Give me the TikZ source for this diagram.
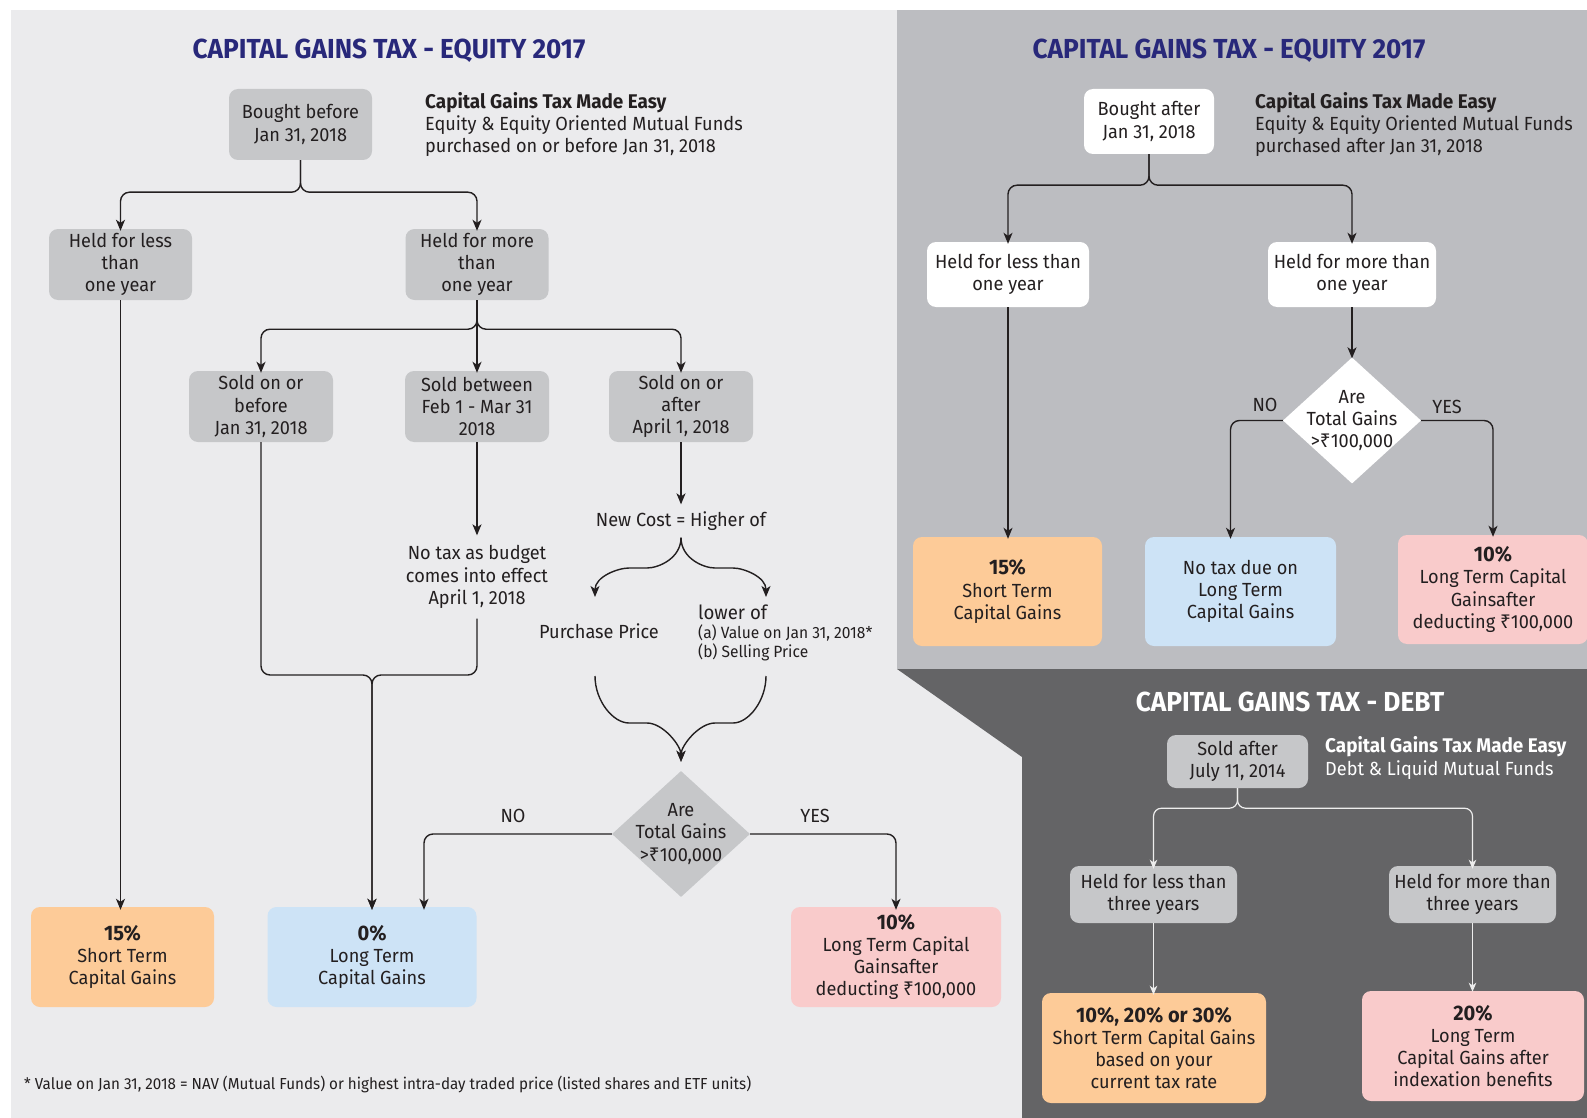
\documentclass[tikz,border=0pt]{standalone}
\usepackage{fontspec}
\setmainfont[FakeStretch=0.955]{Fira Sans}
\newfontfamily\rupeefont{Noto Sans}
\newcommand{\myrupee}{{\rupeefont ₹}}
\newcommand{\bignum}[1]{{\fontsize{21}{22.3}\selectfont\bfseries #1}}
\usetikzlibrary{arrows.meta,shapes.geometric}
\definecolor{panelL}{HTML}{EBEBED}
\definecolor{panelR}{HTML}{BCBDC1}
\definecolor{panelD}{HTML}{646466}
\definecolor{boxg}{HTML}{C6C7C9}
\definecolor{orangebox}{HTML}{FDCB98}
\definecolor{bluebox}{HTML}{CDE3F6}
\definecolor{pinkbox}{HTML}{F9CBCB}
\definecolor{navy}{HTML}{28287A}
\definecolor{txt}{HTML}{231F20}
\definecolor{dline}{HTML}{EDEDED}
\tikzset{
  every node/.style={text=txt, font=\fontsize{19}{22.3}\selectfont, align=center},
  box/.style={rounded corners=9pt, inner sep=0pt, align=center},
  gbox/.style={box, fill=boxg},
  wbox/.style={box, fill=white},
  obox/.style={box, fill=orangebox},
  bbox/.style={box, fill=bluebox},
  pbox/.style={box, fill=pinkbox},
  title/.style={font=\fontsize{27.5}{30}\selectfont\bfseries, text=navy},
  header/.style={anchor=west, align=left, inner sep=0pt},
  plain/.style={inner sep=0pt},
  small/.style={font=\fontsize{16.3}{18}\selectfont, anchor=base west, inner sep=0pt},
  conn/.style={draw=txt, line width=1.4pt, rounded corners=9pt, -{Stealth[length=11pt,width=9pt,inset=3pt]}},
  cline/.style={draw=txt, line width=1.4pt, rounded corners=9pt},
  dconn/.style={draw=dline, line width=1.2pt, rounded corners=8pt, -{Stealth[length=9pt,width=7.5pt,inset=2.5pt]}},
  dia/.style={diamond, inner sep=0pt, minimum width=138pt, minimum height=126pt}
}
\begin{document}
\begin{tikzpicture}[x=1pt,y=-1pt]
\useasboundingbox (0,0) rectangle (1587,1118);
% panels
\fill[white] (0,0) rectangle (1587,1118);
\fill[panelL] (11,10) rectangle (1587,1118);
\fill[panelR] (897,10) rectangle (1587,669);
\fill[panelD] (897,669) -- (1587,669) -- (1587,1118) -- (1022,1118) -- (1022,757) -- cycle;

% ================= LEFT PANEL =================
\node[title] (t1) at (389,51) {CAPITAL GAINS TAX - EQUITY 2017};
\node[header] (h1) at (425,124.5) {{\fontsize{19.8}{22.3}\selectfont\bfseries Capital Gains Tax Made Easy}\\Equity \& Equity Oriented Mutual Funds\\purchased on or before Jan 31, 2018};

\node[gbox, minimum width=143pt, minimum height=71pt] (b1) at (300.5,124.5) {Bought before\\Jan 31, 2018};
\node[gbox, minimum width=143pt, minimum height=71pt] (hl1) at (120.5,264.5) {Held for less\\than\\one year};
\node[gbox, minimum width=143pt, minimum height=71pt] (hm1) at (477,264.5) {Held for more\\than\\one year};
\node[gbox, minimum width=144pt, minimum height=71pt] (s1) at (261,406.5) {Sold on or\\before\\Jan 31, 2018};
\node[gbox, minimum width=144pt, minimum height=71pt] (s2) at (477,406.5) {Sold between\\Feb 1 - Mar 31\\2018};
\node[gbox, minimum width=144pt, minimum height=71pt] (s3) at (681,406.5) {Sold on or\\after\\April 1, 2018};

\node[inner xsep=0pt, inner ysep=10pt] (notax) at (477,577) {No tax as budget\\comes into effect\\April 1, 2018};
\node[inner sep=7pt] (newcost) at (681,521) {New Cost = Higher of};
\node[plain] (pp) at (599,631) {Purchase Price};
\node[small, font=\fontsize{19.5}{22}\selectfont] (lw1) at (698,619) {lower of};
\node[small] (lw2) at (698,638) {(a) Value on Jan 31, 2018*};
\node[small] (lw3) at (698,657) {(b) Selling Price};

\node[dia, fill=boxg] (d1) at (681,834) {};
\node[plain] (d1t) at (d1.center) {Are\\Total Gains\\>\myrupee100,000};
\node[plain] (no1) at (513,816) {NO};
\node[plain] (yes1) at (815,816) {YES};

\node[obox, minimum width=183pt, minimum height=100pt] (st1) at (122.5,957) {\bignum{15\%}\\Short Term\\Capital Gains};
\node[bbox, minimum width=209pt, minimum height=100pt] (zero) at (372,957) {\bignum{0\%}\\Long Term\\Capital Gains};
\node[pbox, minimum width=210pt, minimum height=100pt] (ten1) at (896,957) {\bignum{10\%}\\Long Term Capital\\Gainsafter\\deducting \myrupee100,000};

\node[anchor=west, inner sep=0pt, font=\fontsize{15.9}{18}\selectfont] (fn) at (24,1084) {* Value on Jan 31, 2018 = NAV (Mutual Funds) or highest intra-day traded price (listed shares and ETF units)};

% connectors left
\draw[conn] (b1.south) -- ++(0,32) -| ([yshift=-2pt]hl1.north);
\draw[conn] (b1.south) -- ++(0,32) -| ([yshift=-2pt]hm1.north);
\draw[conn] (hm1.south) -- ++(0,29) -| ([yshift=-2pt]s1.north);
\draw[conn] (hm1.south) -- ([yshift=-2pt]s2.north);
\draw[conn] (hm1.south) -- ++(0,29) -| ([yshift=-2pt]s3.north);
\draw[conn] (hl1.south) -- ([yshift=-3pt]hl1.south |- st1.north);
\draw[conn] (s2.south) -- (notax.north);
\coordinate (m1) at (372,675);
\draw[conn] (s1.south) |- (m1) -- ([yshift=-3pt]zero.north);
\draw[conn] (notax.south) |- (m1) -- ([yshift=-3pt]zero.north);
\draw[conn] (s3.south) -- (newcost.north);
\coordinate (pa) at (595,597);
\coordinate (pb) at (766,597);
\draw[conn] (newcost.south) to[out=-90,in=0] (638,568) to[out=180,in=90] (pa);
\draw[conn] (newcost.south) to[out=-90,in=180] (724,568) to[out=0,in=90] (pb);
\coordinate (qa) at (595,676);
\coordinate (qb) at (766,676);
\draw[conn, shorten >=9pt] (qa) to[out=-90,in=180] (638,723) to[out=0,in=90] (d1.north);
\draw[conn, shorten >=9pt] (qb) to[out=-90,in=0] (724,723) to[out=180,in=90] (d1.north);
\draw[conn] (d1.west) -| ([xshift=52pt,yshift=-3pt]zero.north);
\draw[conn] (d1.east) -| ([yshift=-3pt]ten1.north);

% ================= RIGHT TOP PANEL =================
\node[title] (t2) at (1229,51) {CAPITAL GAINS TAX - EQUITY 2017};
\node[header] (h2) at (1255,124.5) {{\fontsize{19.8}{22.3}\selectfont\bfseries Capital Gains Tax Made Easy}\\Equity \& Equity Oriented Mutual Funds\\purchased after Jan 31, 2018};

\node[wbox, minimum width=130pt, minimum height=65pt] (b2) at (1149,121.5) {Bought after\\Jan 31, 2018};
\node[wbox, minimum width=162pt, minimum height=65pt] (hl2) at (1008,274.5) {Held for less than\\one year};
\node[wbox, minimum width=168pt, minimum height=65pt] (hm2) at (1352,274.5) {Held for more than\\one year};
\node[dia, fill=white] (d2) at (1352,420.5) {};
\node[plain] (d2t) at (d2.center) {Are\\Total Gains\\>\myrupee100,000};
\node[plain] (no2) at (1265,405) {NO};
\node[plain] (yes2) at (1447,407) {YES};
\node[obox, minimum width=189pt, minimum height=109pt] (st2) at (1007.5,591.5) {\bignum{15\%}\\Short Term\\Capital Gains};
\node[bbox, minimum width=191pt, minimum height=109pt] (nt2) at (1240.5,591.5) {No tax due on\\Long Term\\Capital Gains};
\node[pbox, minimum width=190pt, minimum height=109pt] (ten2) at (1493,589.5) {\bignum{10\%}\\Long Term Capital\\Gainsafter\\deducting \myrupee100,000};

\draw[conn] (b2.south) -- ++(0,31) -| ([yshift=-2pt]hl2.north);
\draw[conn] (b2.south) -- ++(0,31) -| ([yshift=-2pt]hm2.north);
\draw[conn] (hl2.south) -- ([yshift=-2pt]hl2.south |- st2.north);
\draw[conn] (hm2.south) -- ([yshift=-1pt]d2.north);
\draw[conn] (d2.west) -| ([xshift=-10pt,yshift=-2pt]nt2.north);
\draw[conn] (d2.east) -| ([yshift=-2pt]ten2.north);

% ================= DEBT PANEL =================
\node[title, text=white] (t3) at (1290,702) {CAPITAL GAINS TAX - DEBT};
\node[header, text=white] (h3) at (1325,758) {{\fontsize{19.8}{22.3}\selectfont\bfseries Capital Gains Tax Made Easy}\\Debt \& Liquid Mutual Funds};
\node[gbox, minimum width=141pt, minimum height=53pt] (sa) at (1237.5,761.5) {Sold after\\July 11, 2014};
\node[gbox, minimum width=167pt, minimum height=57pt] (hl3) at (1153.5,894.5) {Held for less than\\three years};
\node[gbox, minimum width=167pt, minimum height=57pt] (hm3) at (1472.5,894.5) {Held for more than\\three years};
\node[obox, minimum width=224pt, minimum height=110pt] (st3) at (1154,1048) {\bignum{10\%, 20\% or 30\%}\\Short Term Capital Gains\\based on your\\current tax rate};
\node[pbox, minimum width=222pt, minimum height=110pt] (lt3) at (1473,1046) {\bignum{20\%}\\Long Term\\Capital Gains after\\indexation benefits};

\draw[dconn] (sa.south) -- ++(0,20) -| ([yshift=-3pt]hl3.north);
\draw[dconn] (sa.south) -- ++(0,20) -| ([yshift=-3pt]hm3.north);
\draw[dconn] (hl3.south) -- ([yshift=-2pt]hl3.south |- st3.north);
\draw[dconn] (hm3.south) -- ([yshift=-1pt]hm3.south |- lt3.north);
\end{tikzpicture}
\end{document}
